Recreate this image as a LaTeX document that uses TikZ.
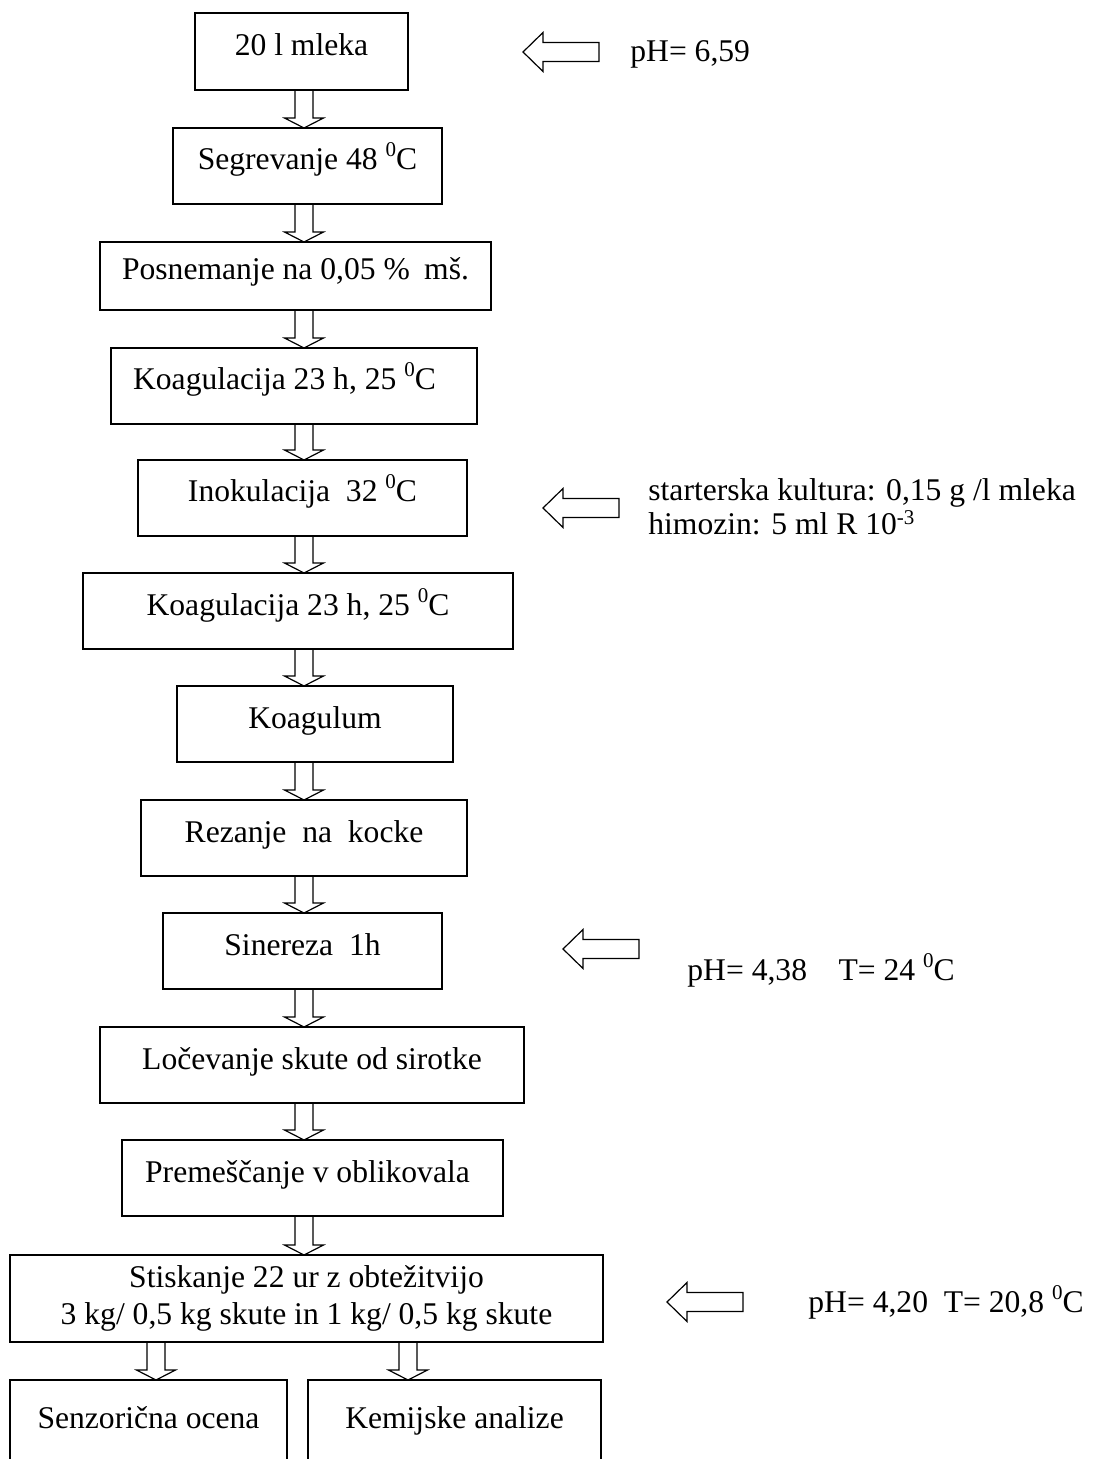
\documentclass[tikz,border=0pt]{standalone}
\usepackage{fontspec}
\setmainfont{Liberation Serif}
\usetikzlibrary{calc}
\newcommand\sups[2][6.5pt]{\raisebox{#1}{\fontsize{10.5}{10.5}\selectfont #2}}
\newcommand\blockdown[3]{%
  \draw[blockarrow] ($(#1.south -| #3)+(-9,0)$) -- ($(#2.north -| #3)+(-9,-10)$)
    -- ($(#2.north -| #3)+(-19.5,-10)$) -- (#2.north -| #3)
    -- ($(#2.north -| #3)+(19.5,-10)$) -- ($(#2.north -| #3)+(9,-10)$)
    -- ($(#1.south -| #3)+(9,0)$);}
\newcommand\sidearrow[3]{%
  \coordinate (#1) at (#2,#3);
  \draw[blockarrow] (#1) -- ++(20,-19.5) -- ++(0,10) -- ++(56,0) -- ++(0,19)
    -- ++(-56,0) -- ++(0,10) -- cycle;}
\begin{document}
\begin{tikzpicture}[x=0.5pt,y=-0.5pt,
  boxbase/.style={draw, rectangle, line width=0.6pt, outer sep=0pt, inner sep=0pt,
    align=center, font=\fontsize{15.8}{18.5}\selectfont},
  box/.style={boxbase, text height=11pt, text depth=7pt, minimum height=38pt},
  blockarrow/.style={draw, line width=0.6pt, line join=miter},
  note/.style={anchor=base west, inner sep=0pt, font=\fontsize{15.8}{18.5}\selectfont}]
\useasboundingbox (0,0) rectangle (1092,1459);
\clip (0,0) rectangle (1092,1459);

\node[box, minimum width=106.5pt, minimum height=38.5pt] (n1) at (301.5,51.5) {20 l mleka};
\node[box, minimum width=134.5pt] (n2) at (307.5,166) {Segrevanje 48 \sups{0}C};
\node[box, minimum width=195.5pt, minimum height=34pt] (n3) at (295.5,276) {Posnemanje na 0,05 \%\hspace{0.45em}mš.};
\node[box, minimum width=183pt] (n4) at (294,386) {Koagulacija 23 h, 25 \sups{0}C\hspace*{9.5pt}};
\node[box, minimum width=164.5pt] (n5) at (302.5,498) {Inokulacija\ \ 32 \sups{0}C};
\node[box, minimum width=215pt] (n6) at (298,611) {Koagulacija 23 h, 25 \sups{0}C};
\node[box, minimum width=138pt] (n7) at (315,724) {Koagulum};
\node[box, minimum width=163pt] (n8) at (304,838) {Rezanje\ \ na\ \ kocke};
\node[box, minimum width=139.5pt] (n9) at (302.5,951) {Sinereza\ \ 1h};
\node[box, minimum width=212pt] (n10) at (312,1065) {Ločevanje skute od sirotke};
\node[box, minimum width=190.5pt] (n11) at (312.5,1178) {Premeščanje v oblikovala\hspace*{5pt}};
\node[boxbase, minimum width=296.5pt, minimum height=43.5pt] (n12) at (306.5,1298.5)
  {Stiskanje 22 ur z obtežitvijo\\3 kg/ 0,5 kg skute in 1 kg/ 0,5 kg skute};
\node[box, minimum width=138.5pt, minimum height=50pt, text depth=12.5pt] (n13) at (148.5,1430) {Senzorična ocena};
\node[box, minimum width=146.5pt, minimum height=50pt, text depth=12.5pt] (n14) at (454.5,1430) {Kemijske analize};

\coordinate (X) at (304,0);
\coordinate (XL) at (156,0);
\coordinate (XR) at (408,0);
\blockdown{n1}{n2}{X}
\blockdown{n2}{n3}{X}
\blockdown{n3}{n4}{X}
\blockdown{n4}{n5}{X}
\blockdown{n5}{n6}{X}
\blockdown{n6}{n7}{X}
\blockdown{n7}{n8}{X}
\blockdown{n8}{n9}{X}
\blockdown{n9}{n10}{X}
\blockdown{n10}{n11}{X}
\blockdown{n11}{n12}{X}
\blockdown{n12}{n13}{XL}
\blockdown{n12}{n14}{XR}

\sidearrow{a1}{523}{52}
\sidearrow{a2}{543}{508}
\sidearrow{a3}{563}{949}
\sidearrow{a4}{667}{1302}

\node[note] (t1) at (630,62) {pH= 6,59};
\node[note] (t2a) at (648,501) {starterska kultura: 0,15 g /l mleka};
\node[note] (t2b) at (648,534) {himozin: 5 ml R 10\sups[5pt]{-3}};
\node[note] (t3) at (687,980) {pH= 4,38\ \ \ \ T= 24 \sups{0}C};
\node[note] (t4) at (808,1312.5) {pH= 4,20\ \ T= 20,8 \sups{0}C};
\end{tikzpicture}
\end{document}
